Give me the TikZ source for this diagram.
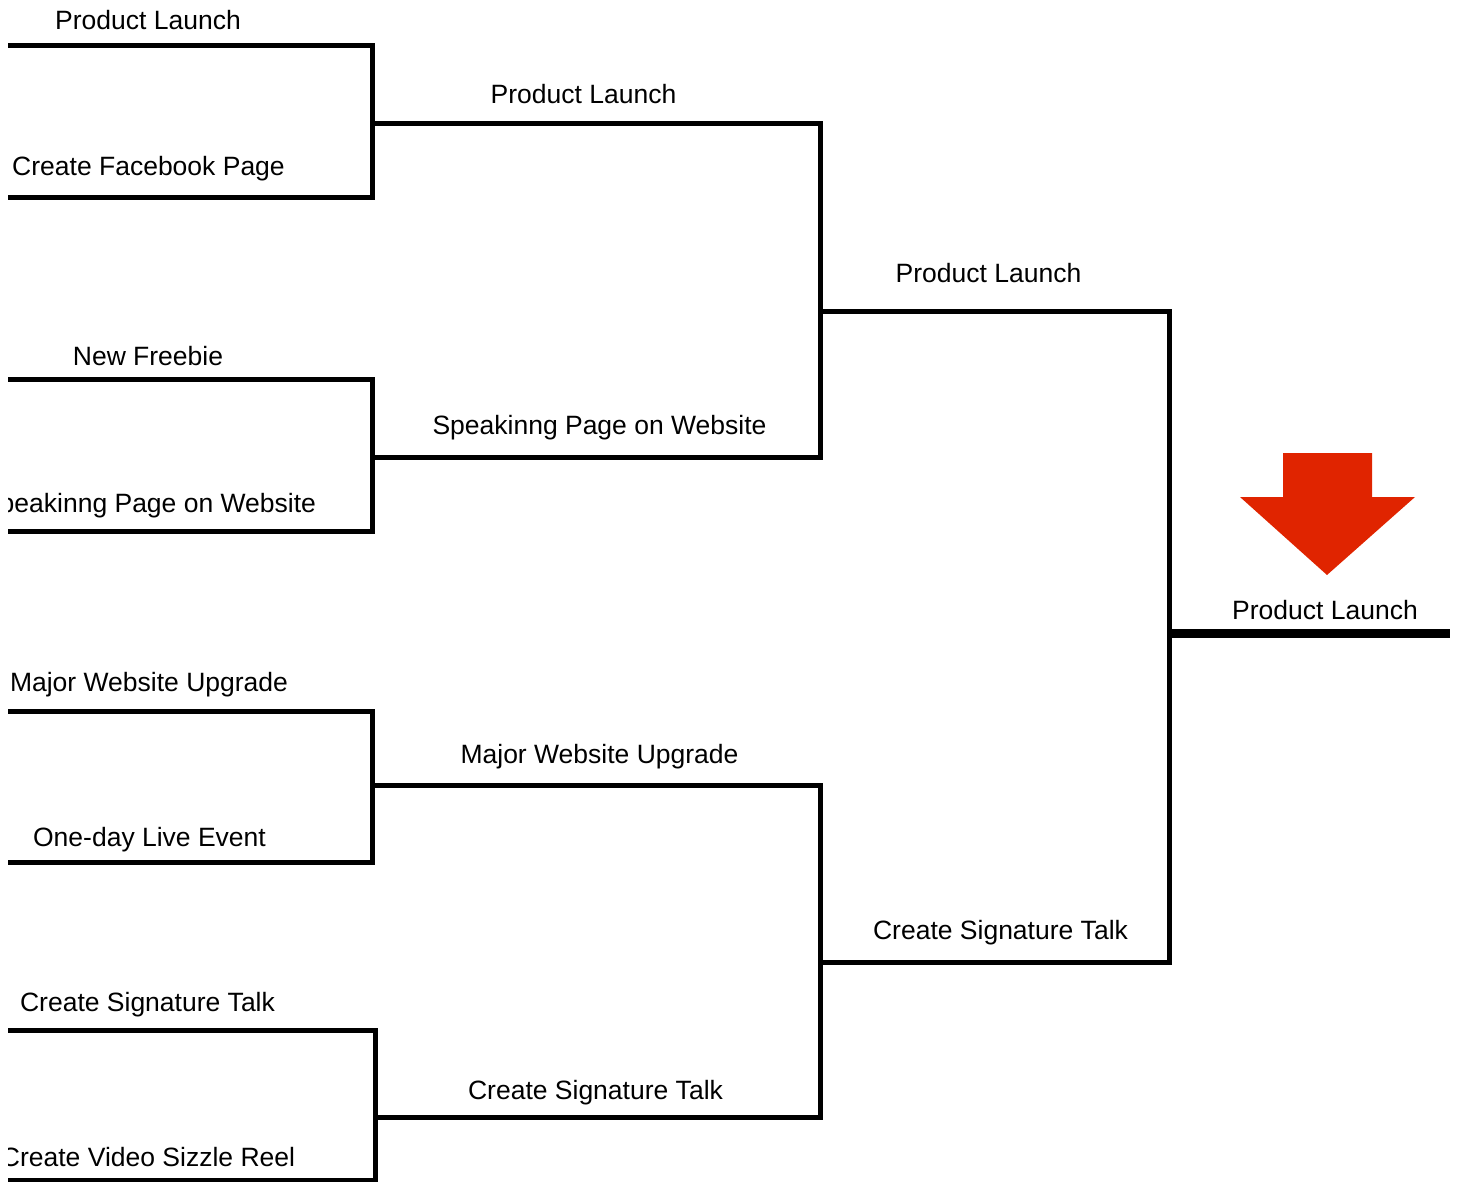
\documentclass[tikz,border=0pt]{standalone}
\usepackage{fontspec}
\setmainfont{Liberation Sans}
\definecolor{arrowred}{RGB}{224,36,0}
\begin{document}
\begin{tikzpicture}[x=1pt,y=-1pt,
  lbl/.style={inner sep=0pt,anchor=base,font=\fontsize{26.5}{30}\selectfont},
  wire/.style={line width=5pt,line join=miter,line cap=butt},
  final/.style={line width=8.5pt,line cap=butt}]
\useasboundingbox (0,0) rectangle (1460,1182);
\begin{scope}
\clip (8,0) rectangle (1460,1182);
% round 1 coordinates
\coordinate (a1) at (8,46);   \coordinate (a2) at (8,198);
\coordinate (b1) at (8,380);  \coordinate (b2) at (8,531);
\coordinate (c1) at (8,711);  \coordinate (c2) at (8,862);
\coordinate (d1) at (8,1030); \coordinate (d2) at (8,1180);
% round 2 joins
\coordinate (ra1) at (372.5,46);  \coordinate (ra2) at (372.5,198); \coordinate (ma) at (372.5,124);
\coordinate (rb1) at (372.5,380); \coordinate (rb2) at (372.5,531); \coordinate (mb) at (372.5,457);
\coordinate (rc1) at (372.5,711); \coordinate (rc2) at (372.5,862); \coordinate (mc) at (372.5,785);
\coordinate (rd1) at (375.5,1030);\coordinate (rd2) at (375.5,1180);\coordinate (md) at (375.5,1117);
\coordinate (ab1) at (820.5,124); \coordinate (ab2) at (820.5,457); \coordinate (mab) at (820.5,311.5);
\coordinate (cd1) at (820.5,785); \coordinate (cd2) at (820.5,1117);\coordinate (mcd) at (820.5,962);
\coordinate (f1) at (1169.5,311.5); \coordinate (f2) at (1169.5,962); \coordinate (mf) at (1169.5,633.5);
\coordinate (fe) at (1450,633.5);

\draw[wire] (a1) -- (ra1) -- (ra2) -- (a2);
\draw[wire] (b1) -- (rb1) -- (rb2) -- (b2);
\draw[wire] (c1) -- (rc1) -- (rc2) -- (c2);
\draw[wire] (d1) -- (rd1) -- (rd2) -- (d2);
\draw[wire] (ma) -- (ab1) -- (ab2) -- (mb);
\draw[wire] (mc) -- (cd1) -- (cd2) -- (md);
\draw[wire] (mab) -- (f1) -- (f2) -- (mcd);
\draw[final] (mf) -- (fe);

% labels
\node[lbl] (t1) at (148,30) {Product Launch};
\node[lbl] (t2) at (148.5,176) {Create Facebook Page};
\node[lbl] (t3) at (148,366) {New Freebie};
\node[lbl] (t4) at (149,512) {Speakinng Page on Website};
\node[lbl] (t5) at (149,691) {Major Website Upgrade};
\node[lbl] (t6) at (149.5,846) {One-day Live Event};
\node[lbl] (t7) at (147.5,1011) {Create Signature Talk};
\node[lbl] (t8) at (148,1166) {Create Video Sizzle Reel};
\node[lbl] (s1) at (583.5,104) {Product Launch};
\node[lbl] (s2) at (599.5,435) {Speakinng Page on Website};
\node[lbl] (s3) at (599.5,763) {Major Website Upgrade};
\node[lbl] (s4) at (595.5,1099) {Create Signature Talk};
\node[lbl] (u1) at (988.5,283) {Product Launch};
\node[lbl] (u2) at (1000.5,939) {Create Signature Talk};
\node[lbl] (w) at (1325,619) {Product Launch};
\end{scope}
% red arrow
\fill[arrowred] (1283,453) -- (1372,453) -- (1372,497) -- (1415,497) -- (1327,575)
  -- (1240,497) -- (1283,497) -- cycle;
\end{tikzpicture}
\end{document}
